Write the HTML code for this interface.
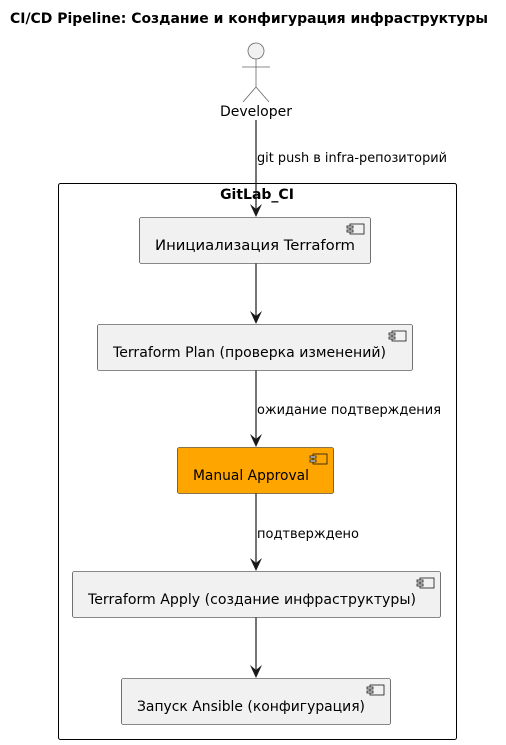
<!DOCTYPE html>
<html><head><meta charset="utf-8"><style>
html,body{margin:0;padding:0;background:#fff;}
svg{display:block;}
text{font-family:"DejaVu Sans","Liberation Sans",sans-serif;}
</style></head><body>
<svg width="506" height="745" viewBox="0 0 506 745" xmlns="http://www.w3.org/2000/svg">
<defs>
<g id="ic"><rect x="0" y="0" width="14" height="10" fill="none" stroke="#181818" stroke-width="0.8"/><rect x="-3" y="2" width="6" height="2" fill="#f1f1f1" stroke="#181818" stroke-width="0.8"/><rect x="-3" y="6" width="6" height="2" fill="#f1f1f1" stroke="#181818" stroke-width="0.8"/></g>
</defs>
<text x="10" y="23" font-size="14" font-weight="bold" textLength="478" lengthAdjust="spacingAndGlyphs">CI/CD Pipeline: Создание и конфигурация инфраструктуры</text>
<g stroke="#666" stroke-width="0.8" fill="none">
<circle cx="256" cy="51" r="8" fill="#f1f1f1"/>
<line x1="256" y1="59" x2="256" y2="87"/>
<line x1="242" y1="67" x2="270" y2="67"/>
<line x1="256" y1="87" x2="243" y2="102"/>
<line x1="256" y1="87" x2="269" y2="102"/>
</g>
<text x="256" y="116" font-size="14" text-anchor="middle">Developer</text>
<rect x="58.5" y="183.5" width="398" height="556" rx="2" fill="none" stroke="#000" stroke-width="1"/>
<text x="257" y="199" font-size="14" font-weight="bold" text-anchor="middle">GitLab_CI</text>
<g stroke="#181818" stroke-width="1.2" fill="none">
<line x1="256" y1="120" x2="256" y2="212"/>
<line x1="256" y1="263" x2="256" y2="319"/>
<line x1="256" y1="370" x2="256" y2="442"/>
<line x1="256" y1="493" x2="256" y2="566"/>
<line x1="256" y1="617" x2="256" y2="673"/>
</g>
<g fill="#181818">
<polygon points="256,217 250,204 256,209 262,204"/>
<polygon points="256,324 250,311 256,316 262,311"/>
<polygon points="256,447 250,434 256,439 262,434"/>
<polygon points="256,571 250,558 256,563 262,558"/>
<polygon points="256,678 250,665 256,670 262,665"/>
</g>
<text x="257" y="162" font-size="13" textLength="190" lengthAdjust="spacingAndGlyphs">git push в infra-репозиторий</text>
<text x="257" y="414" font-size="13" textLength="184" lengthAdjust="spacingAndGlyphs">ожидание подтверждения</text>
<text x="257" y="538" font-size="13" textLength="102" lengthAdjust="spacingAndGlyphs">подтверждено</text>
<g stroke="#181818" stroke-width="0.6">
<rect x="139.5" y="217.5" width="231" height="46" rx="2" fill="#f1f1f1"/>
<rect x="97.5" y="324.5" width="315" height="46" rx="2" fill="#f1f1f1"/>
<rect x="177.5" y="447.5" width="156" height="46" rx="2" fill="#FFA500"/>
<rect x="72.5" y="571.5" width="368" height="46" rx="2" fill="#f1f1f1"/>
<rect x="121.5" y="678.5" width="269" height="46" rx="2" fill="#f1f1f1"/>
</g>
<use href="#ic" x="350" y="224"/>
<use href="#ic" x="392" y="331"/>
<use href="#ic" x="313" y="454"/>
<use href="#ic" x="420" y="578"/>
<use href="#ic" x="370" y="685"/>
<g font-size="14">
<text x="155" y="250" textLength="200" lengthAdjust="spacingAndGlyphs">Инициализация Terraform</text>
<text x="113" y="357" textLength="273" lengthAdjust="spacingAndGlyphs">Terraform Plan (проверка изменений)</text>
<text x="193" y="480" textLength="116" lengthAdjust="spacingAndGlyphs">Manual Approval</text>
<text x="88" y="604" textLength="328" lengthAdjust="spacingAndGlyphs">Terraform Apply (создание инфраструктуры)</text>
<text x="137" y="711" textLength="228" lengthAdjust="spacingAndGlyphs">Запуск Ansible (конфигурация)</text>
</g>
</svg>
</body></html>
